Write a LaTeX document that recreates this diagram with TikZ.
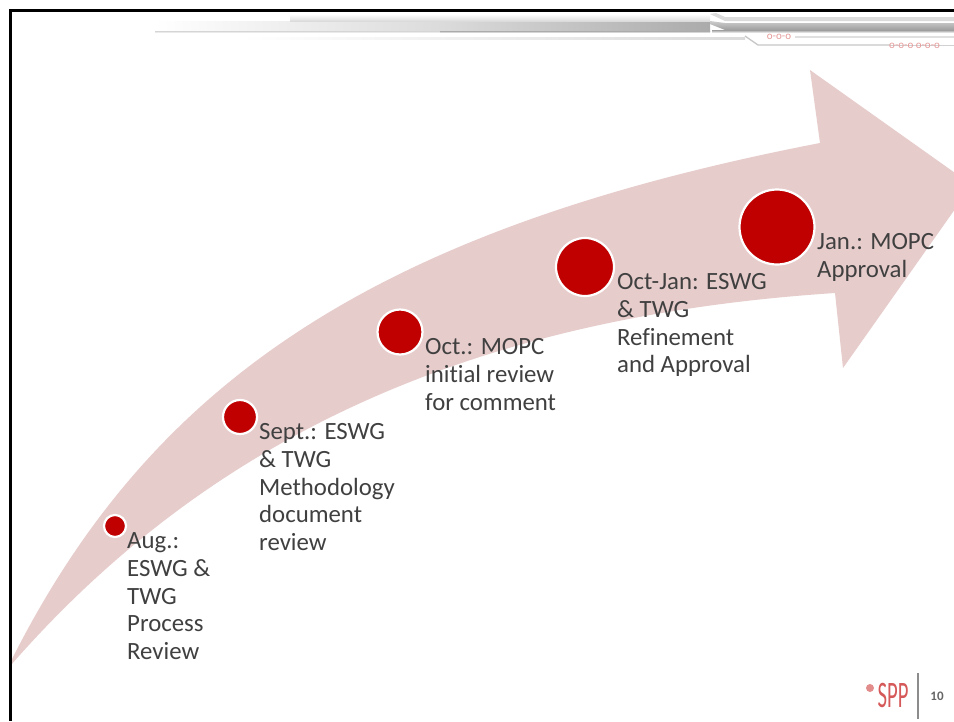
\documentclass[tikz,border=0pt]{standalone}
\usepackage{fontspec}
\setmainfont[RawFeature={-liga}]{Carlito}
\begin{document}
\begin{tikzpicture}[x=1pt,y=-1pt,
 dot/.style={circle,fill=spred,draw=white,line width=2.2pt,inner sep=0pt},
 lab/.style={anchor=north west,align=left,inner sep=0pt,text=txt,font=\fontsize{24.8}{27.7}\selectfont},
 chain/.style={inner sep=0pt,text=spred!40,font=\fontsize{11}{11}\selectfont}]
\definecolor{spred}{RGB}{192,0,0}
\definecolor{pinkarrow}{RGB}{231,204,204}
\definecolor{txt}{RGB}{64,64,64}
\useasboundingbox (0,0) rectangle (954,721);
\fill[white] (0,0) rectangle (954,721);
% header decoration
\shade[left color=white,right color=black!14] (155,21) rectangle (440,31);
\shade[left color=black!14,right color=black!33] (440,21) rectangle (710,31);
\shade[top color=white,bottom color=black!14] (290,14) rectangle (710,21);
\shade[top color=black!33,bottom color=white] (155,31) rectangle (710,33);
\fill[white,opacity=.5] (155,31) rectangle (440,33);
\shade[left color=white,right color=black!14] (240,37) rectangle (745,39);
\fill[black!14] (710,14) -- (725,21) -- (954,21) -- (954,17) -- (725,17) -- (716,13) -- cycle;
\shade[top color=black!20,bottom color=black!38] (725,23) -- (954,23) -- (954,30) -- (725,30) -- (710,24) -- (710,21) -- cycle;
\shade[top color=black!38,bottom color=white] (712,30) rectangle (954,33);
\draw[black!22,line width=1.3pt] (745,36) -- (758,45) -- (890,45);
\draw[black!12,line width=1.3pt] (795,37) -- (954,37);
\draw[black!18,line width=1pt] (890,45) -- (954,45);
\node[chain] (c1) at (779,37) {o-o-o};
\node[chain,anchor=west] (c2) at (889,46) {o-o-o o-o-o};
% arrow
\fill[pinkarrow] (11,661)
  .. controls (150,385) and (370,230) .. (820,143)
  -- (810,70) -- (972,185) -- (843,368) -- (835,293)
  .. controls (500,315) and (225,420) .. (11,665) -- cycle;
% frame
\fill[black] (9,9) rectangle (954,11.5);
\fill[black] (9,9) rectangle (12,721);
% dots
\node[dot,minimum size=22pt] (d1) at (115,526) {};
\node[dot,minimum size=34pt] (d2) at (240,417) {};
\node[dot,minimum size=45pt] (d3) at (400,332) {};
\node[dot,minimum size=58pt] (d4) at (585,267) {};
\node[dot,minimum size=75pt] (d5) at (777,227) {};
% labels
\node[lab] (l1) at (127,532.5) {Aug.:\\ESWG \&\\TWG\\Process\\Review};
\node[lab] (l2) at (259,423.5) {Sept.: ESWG\\\& TWG\\Methodology\\document\\review};
\node[lab] (l3) at (425,338.5) {Oct.: MOPC\\initial review\\for comment};
\node[lab] (l4) at (617,273.5) {Oct-Jan: ESWG\\\& TWG\\Refinement\\and Approval};
\node[lab] (l5) at (817,233.5) {Jan.: MOPC\\Approval};
% footer
\node[inner sep=0pt,text=spred!65,font=\fontsize{22}{22}\selectfont] (logo) at (893,695) {\scalebox{0.94}[1.7]{SPP}};
\fill[spred!45] (870,688) circle (4pt);
\draw[black!45,line width=1.6pt] (918,673) -- (918,719);
\node[inner sep=0pt,text=black!60,font=\fontsize{13}{13}\selectfont\bfseries] (pg) at (937,696) {10};
\end{tikzpicture}
\end{document}
